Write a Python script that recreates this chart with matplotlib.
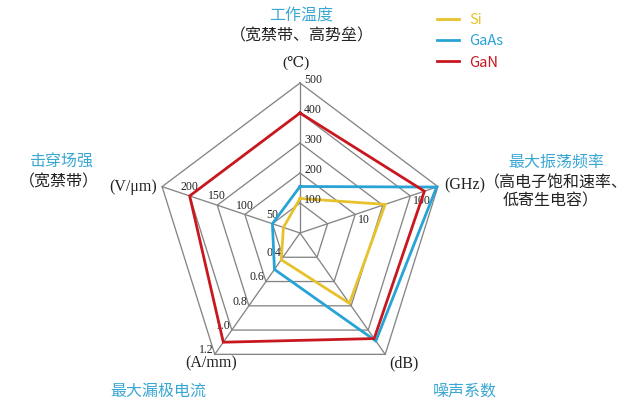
import numpy as np
import matplotlib
matplotlib.use("Agg")
import matplotlib.pyplot as plt
from matplotlib.lines import Line2D

# ---------------- data ----------------
series = ["Si", "GaAs", "GaN"]
temperature_C = [115, 155, 400]          # 工作温度 (℃), linear 0-500
fmax_GHz = [35, 300, 180]                # 最大振荡频率 (GHz), log scale
noise_level = [2.9, 4.45, 4.35]          # 噪声系数 (dB), unlabelled 0-5 scale
current_A_mm = [0.42, 0.5, 1.1]          # 最大漏极电流 (A/mm), 0.2-1.2
breakdown_V_um = [30, 50, 200]           # 击穿场强 (V/μm), 0-250

temp_ticks = [100, 200, 300, 400, 500]
fmax_ticks = [10, 100]
current_ticks = [0.4, 0.6, 0.8, 1.0, 1.2]
breakdown_ticks = [50, 100, 150, 200]

colors = ["#E8C22C", "#27A3D6", "#C9171F"]

# ---------------- axis scales (value -> radius 0..1) ----------------
def r_temp(v): return np.asarray(v, float) / 500.0
def r_fmax(v): return 0.4 * np.log10(np.asarray(v, float))
def r_noise(v): return np.asarray(v, float) / 5.0
def r_current(v): return (np.asarray(v, float) - 0.2) / 1.0
def r_break(v): return np.asarray(v, float) / 250.0

angles = np.deg2rad([90, 18, -54, -126, 162])
scales = [r_temp, r_fmax, r_noise, r_current, r_break]
values = [temperature_C, fmax_GHz, noise_level, current_A_mm, breakdown_V_um]

W, H = 640, 400
fig = plt.figure(figsize=(6.4, 4.0), dpi=100)
ax = fig.add_axes([0, 0, 1, 1])
SX, SY = 145.0, 150.0
CX, CY = 300.0, 233.0
ax.set_xlim(-CX / SX, (W - CX) / SX)
ax.set_ylim(-(H - CY) / SY, CY / SY)
ax.axis("off")

def xy(r, a):
    return r * np.cos(a), r * np.sin(a)

grid_c = "#858585"
# pentagon grid
for k in range(1, 6):
    r = k / 5.0
    a = np.append(angles, angles[0])
    gx, gy = xy(r, a)
    ax.plot(gx, gy, color=grid_c, lw=0.95, zorder=1)
# spokes
for a in angles:
    sx, sy = xy(np.array([0, 1.0]), a)
    ax.plot(sx, sy, color=grid_c, lw=0.95, zorder=1)

# data polygons
for i, name in enumerate(series):
    rs = np.array([scales[j](values[j][i]) for j in range(5)])
    px, py = xy(rs, angles)
    ax.plot(np.append(px, px[0]), np.append(py, py[0]), color=colors[i],
            lw=2.0, zorder=3 + i, solid_joinstyle="miter")

# tick labels
serif = ["Liberation Serif", "DejaVu Serif"]
tfs = 8.5
tc = "#222222"
for v in temp_ticks:
    x, y = xy(r_temp(v), angles[0])
    ax.annotate(str(v), (x, y), xytext=(3, 2.5), textcoords="offset points",
                ha="left", va="center", fontsize=tfs, family=serif, color=tc)
for v in fmax_ticks:
    x, y = xy(r_fmax(v), angles[1])
    ax.annotate(str(v), (x, y), xytext=(2, -4), textcoords="offset points",
                ha="left", va="center", fontsize=tfs, family=serif, color=tc)
for v in current_ticks:
    x, y = xy(r_current(v), angles[3])
    ax.annotate(f"{v:.1f}", (x, y), xytext=(-1, 3), textcoords="offset points",
                ha="right", va="center", fontsize=tfs, family=serif, color=tc)
for v in breakdown_ticks:
    x, y = xy(r_break(v), angles[4])
    ax.annotate(str(v), (x, y), xytext=(0, 2), textcoords="offset points",
                ha="center", va="bottom", fontsize=tfs, family=serif, color=tc)

# ---------------- texts ----------------
cjk = ["Noto Sans CJK SC", "DejaVu Sans"]
unit_font = ["Liberation Serif", "DejaVu Serif", "DejaVu Sans"]
title_c = "#3AA7D3"
dark = "#222222"
fs = 11.5

def ftext(px, py, s, **kw):
    fig.text(px / W, 1 - py / H, s, ha="center", va="center", **kw)

ftext(301, 16, "工作温度", fontsize=fs, family=cjk, color=title_c)
ftext(302, 36, "（宽禁带、高势垒）", fontsize=fs, family=cjk, color=dark)
ftext(296, 63, "(℃)", fontsize=11, family=unit_font, color=dark)

ftext(556, 162, "最大振荡频率", fontsize=fs, family=cjk, color=title_c)
ftext(556, 183, "（高电子饱和速率、", fontsize=fs, family=cjk, color=dark)
ftext(551, 201, "低寄生电容）", fontsize=fs, family=cjk, color=dark)
ftext(465, 185, "(GHz)", fontsize=11.5, family=unit_font, color=dark)

ftext(62, 161, "击穿场强", fontsize=fs, family=cjk, color=title_c)
ftext(59, 182, "（宽禁带）", fontsize=fs, family=cjk, color=dark)
ftext(133, 187, "(V/μm)", fontsize=11.5, family=unit_font, color=dark)

ftext(211, 363, "(A/mm)", fontsize=11.5, family=unit_font, color=dark)
ftext(404, 363, "(dB)", fontsize=11.5, family=unit_font, color=dark)
ftext(158, 391, "最大漏极电流", fontsize=fs, family=cjk, color=title_c)
ftext(465, 391, "噪声系数", fontsize=fs, family=cjk, color=title_c)

# legend
handles = [Line2D([0], [0], color=c, lw=2.0) for c in colors]
leg = ax.legend(handles, series, loc="upper left",
                bbox_to_anchor=(437 / W, 1 - 13 / H), bbox_transform=fig.transFigure,
                frameon=False, handlelength=1.5, handletextpad=0.7,
                labelspacing=0.5, borderpad=0, borderaxespad=0,
                prop={"family": cjk, "size": 10.5}, labelcolor=colors)

fig.savefig("out.png", dpi=100, facecolor="white")
